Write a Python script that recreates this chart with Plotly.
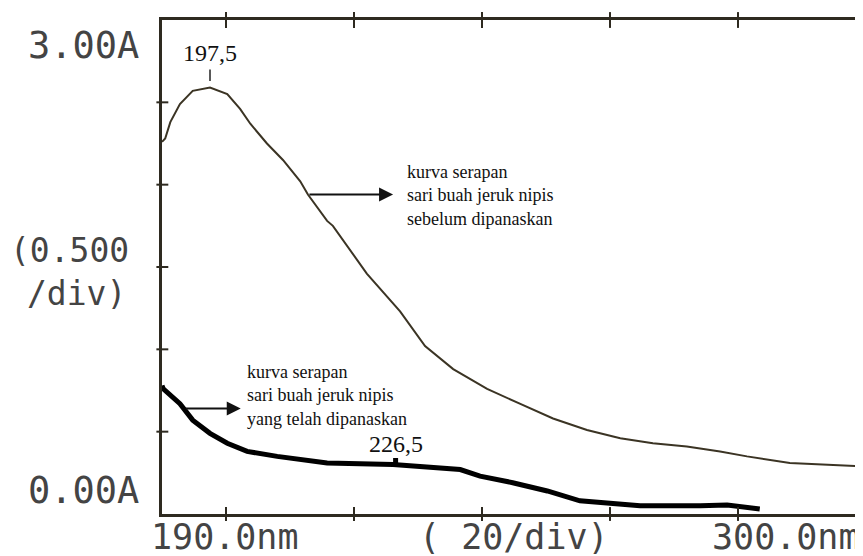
import plotly.graph_objects as go

# Curve before heating (sebelum dipanaskan)
wl_before = [190.0, 190.5, 191.3, 192.8, 194.8, 197.5, 200.2, 202.2, 203.8, 206.4, 208.9,
             211.6, 212.8, 215.8, 216.7, 222.0, 227.2, 231.1, 235.5, 240.8, 245.9, 251.1,
             256.4, 261.6, 266.7, 272.0, 277.2, 281.4, 288.1, 294.4, 299.5]
abs_before = [2.26, 2.28, 2.38, 2.49, 2.57, 2.59, 2.55, 2.46, 2.37, 2.25, 2.15,
              2.02, 1.94, 1.78, 1.75, 1.46, 1.23, 1.02, 0.88, 0.76, 0.67, 0.58,
              0.51, 0.46, 0.43, 0.41, 0.38, 0.35, 0.31, 0.30, 0.29]

# Curve after heating (yang telah dipanaskan)
wl_after = [190.0, 190.2, 192.8, 194.8, 197.5, 200.2, 203.3, 208.0, 215.8, 226.1, 236.6,
            239.7, 244.8, 250.2, 255.3, 258.4, 264.7, 274.1, 278.3, 283.4]
abs_after = [0.78, 0.76, 0.67, 0.57, 0.49, 0.43, 0.38, 0.35, 0.31, 0.30, 0.27,
             0.23, 0.19, 0.14, 0.08, 0.07, 0.05, 0.05, 0.055, 0.03]

x_ticks = [200, 220, 240, 260, 280]
y_ticks = [0.5, 1.0, 1.5, 2.0, 2.5]
peak1_wl, peak1_label = 197.5, "197,5"
peak2_wl, peak2_label = 226.5, "226,5"

X_MIN, X_MAX = 190.0, 299.53
Y_MIN, Y_MAX = 0.0, 3.0
AX = "#2e2a20"
TXT = "#444444"
MONO = "DejaVu Sans Mono"
SERIF = "Liberation Serif"

fig = go.Figure()
fig.add_trace(go.Scatter(x=wl_before, y=abs_before, mode="lines",
                         line=dict(color="#3b3424", width=2), showlegend=False))
fig.add_trace(go.Scatter(x=wl_after, y=abs_after, mode="lines",
                         line=dict(color="#000000", width=5), showlegend=False))

shapes = []
for t in x_ticks:
    shapes.append(dict(type="line", xref="x", yref="paper", x0=t, x1=t, y0=-0.014, y1=0.014,
                       line=dict(color=AX, width=2)))
    shapes.append(dict(type="line", xref="x", yref="paper", x0=t, x1=t, y0=0.984, y1=1.016,
                       line=dict(color=AX, width=2)))
for t in y_ticks:
    shapes.append(dict(type="line", xref="paper", yref="y", x0=-0.008, x1=0.009, y0=t, y1=t,
                       line=dict(color=AX, width=2)))
# peak markers
shapes.append(dict(type="line", xref="x", yref="y", x0=peak1_wl, x1=peak1_wl, y0=2.63, y1=2.70,
                   line=dict(color="#222", width=1.5)))
shapes.append(dict(type="line", xref="x", yref="y", x0=peak2_wl, x1=peak2_wl, y0=0.30, y1=0.34,
                   line=dict(color="#000", width=5)))

ann = []
def mono(text, x, y, xanchor="right", size=37):
    ann.append(dict(text=text, xref="paper", yref="paper", x=x, y=y, xanchor=xanchor,
                    yanchor="middle", showarrow=False,
                    font=dict(family=MONO, size=size, color=TXT)))

W, H = 701.0, 486.0
def px(xp):
    return (xp - 162) / W
def py(yp):
    return (506 - yp) / H

mono("3.00A", px(141), py(45))
mono("(0.500", px(131), py(247), size=33)
mono("/div)", px(128), py(289), size=33)
mono("0.00A", px(141), py(483))
mono("190.0nm", px(225), py(529), "center", size=35)
mono("( 20/div)", px(514), py(529), "center", size=35)
mono("300.0nm", px(862), py(529), "right", size=35)

ann.append(dict(text=peak1_label, xref="x", yref="y", x=peak1_wl, y=2.80, showarrow=False,
                xanchor="center", yanchor="middle", font=dict(family=SERIF, size=24, color="#111")))
ann.append(dict(text=peak2_label, xref="x", yref="y", x=peak2_wl, y=0.425, showarrow=False,
                xanchor="center", yanchor="middle", font=dict(family=SERIF, size=24, color="#111")))

ann.append(dict(text="kurva serapan<br>sari buah jeruk nipis<br>sebelum dipanaskan",
                xref="paper", yref="paper", x=px(405), y=py(193), xanchor="left", yanchor="middle",
                align="left", showarrow=False, font=dict(family=SERIF, size=18, color="#111")))
ann.append(dict(text="kurva serapan<br>sari buah jeruk nipis<br>yang telah dipanaskan",
                xref="paper", yref="paper", x=px(245), y=py(389), xanchor="left", yanchor="middle",
                align="left", showarrow=False, font=dict(family=SERIF, size=18, color="#111")))

# arrows
ann.append(dict(text="", x=226.1, y=1.94, xref="x", yref="y", ax=212.8, ay=1.94,
                axref="x", ayref="y", showarrow=True, arrowhead=2, arrowsize=1.4,
                arrowwidth=2, arrowcolor="#111"))
ann.append(dict(text="", x=202.3, y=0.64, xref="x", yref="y", ax=193.5, ay=0.64,
                axref="x", ayref="y", showarrow=True, arrowhead=2, arrowsize=1.4,
                arrowwidth=2, arrowcolor="#111"))

# The page body has an 8px margin, so the figure is 8px smaller than the window
fig.update_layout(
    width=855, height=548,
    margin=dict(l=154, r=0, t=12, b=42),
    paper_bgcolor="white", plot_bgcolor="white",
    shapes=shapes, annotations=ann,
    xaxis=dict(range=[X_MIN, X_MAX], showgrid=False, zeroline=False, showticklabels=False,
               ticks="", showline=True, mirror=True, linecolor=AX, linewidth=2.5),
    yaxis=dict(range=[Y_MIN, Y_MAX], showgrid=False, zeroline=False, showticklabels=False,
               ticks="", showline=True, linecolor=AX, linewidth=2.5),
)

fig.write_html("out.html")
